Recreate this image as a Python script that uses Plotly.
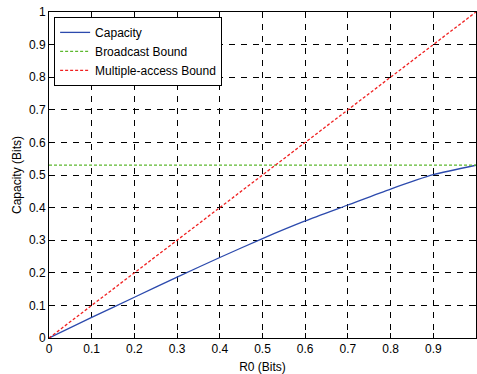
import plotly.graph_objects as go

r0 = [0.0, 0.1, 0.2, 0.3, 0.4, 0.5, 0.6, 0.7, 0.8, 0.9, 1.0]
capacity = [0.0, 0.063, 0.125, 0.187, 0.247, 0.305, 0.359, 0.408, 0.457, 0.501, 0.530]
broadcast = [0.53] * len(r0)
multiple_access = [0.0, 0.1, 0.2, 0.3, 0.4, 0.5, 0.6, 0.7, 0.8, 0.9, 1.0]

ticks = [0, 0.1, 0.2, 0.3, 0.4, 0.5, 0.6, 0.7, 0.8, 0.9, 1]
tick_text = ["0", "0.1", "0.2", "0.3", "0.4", "0.5", "0.6", "0.7", "0.8", "0.9", "1"]

fig = go.Figure()
fig.add_trace(go.Scatter(x=r0, y=capacity, mode="lines", name="Capacity",
                         line=dict(color="#2c4aad", width=1.3, shape="spline", smoothing=0.6)))
fig.add_trace(go.Scatter(x=r0, y=broadcast, mode="lines", name="Broadcast Bound",
                         line=dict(color="#5cb82e", width=1.3, dash="3px,2px")))
fig.add_trace(go.Scatter(x=r0, y=multiple_access, mode="lines", name="Multiple-access Bound",
                         line=dict(color="#f02020", width=1.3, dash="3px,2px")))

axis_common = dict(
    range=[0, 1], tickvals=ticks, ticktext=tick_text,
    showline=True, linecolor="black", linewidth=1, mirror="ticks",
    ticks="inside", ticklen=5, tickcolor="black", tickwidth=1,
    showgrid=True, gridcolor="black", gridwidth=1, griddash="6px,6px",
    zeroline=False, tickfont=dict(size=12, color="black"),
)

fig.update_layout(
    width=477, height=374,
    margin=dict(l=49, r=1, t=12, b=36),
    paper_bgcolor="white", plot_bgcolor="white",
    font=dict(family="Liberation Sans, Arial, sans-serif", size=12, color="black"),
    xaxis=dict(**axis_common, title=dict(text="R0 (Bits)", standoff=7, font=dict(size=12))),
    yaxis=dict(**axis_common, title=dict(text="Capacity (Bits)", standoff=4, font=dict(size=12))),
    legend=dict(x=0.012, y=0.985, xanchor="left", yanchor="top",
                bgcolor="white", bordercolor="black", borderwidth=1,
                font=dict(size=12), tracegroupgap=0, itemwidth=30),
    showlegend=True,
)

fig.write_html("out.html")
